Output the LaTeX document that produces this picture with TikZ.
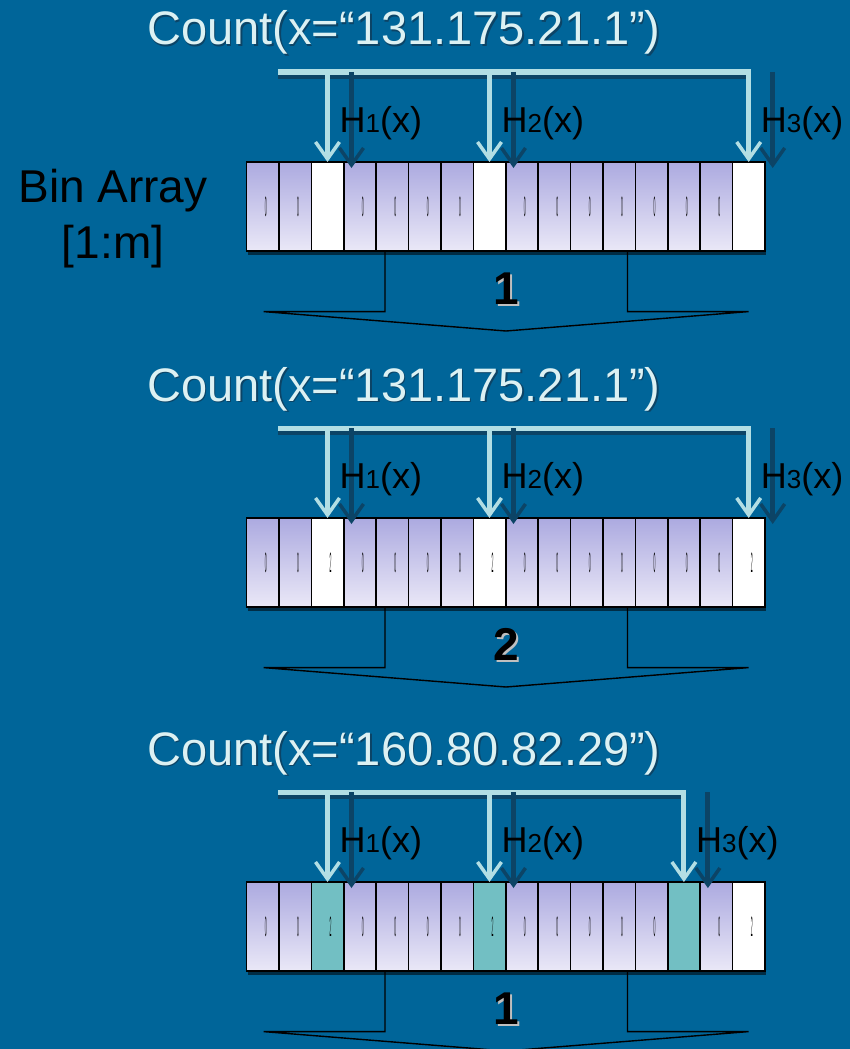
\documentclass[tikz,border=0pt]{standalone}
\usepackage{fontspec}
\setmainfont{Liberation Sans}
\usepackage{graphicx}
\usetikzlibrary{arrows.meta,positioning,shadows}

\definecolor{slide}{RGB}{0,101,153}
\definecolor{hashlt}{RGB}{178,222,228}
\definecolor{hashdk}{RGB}{12,68,102}
\definecolor{titlecol}{RGB}{220,241,243}
\definecolor{binhi}{RGB}{172,170,224}
\definecolor{binlo}{RGB}{234,232,247}
\definecolor{hitteal}{RGB}{114,191,195}

% squeezed counter value inside a narrow bin
\newcommand{\binmark}[1]{\hspace*{6pt}\scalebox{0.12}[1]{\fontsize{28}{28}\selectfont #1}}

% bin kinds, left to right
\def\rowA{binzero,binzero,binclear,binzero,binzero,binzero,binzero,binclear,binzero,binzero,binzero,binzero,binzero,binzero,binzero,binclear}
\def\rowB{binzero,binzero,bintwo,binzero,binzero,binzero,binzero,bintwo,binzero,binzero,binzero,binzero,binzero,binzero,binzero,bintwo}
\def\rowC{binzero,binzero,binhit,binzero,binzero,binzero,binzero,binhit,binzero,binzero,binzero,binzero,binzero,binhitnew,binzero,bintwo}

\begin{document}
\begin{tikzpicture}[x=1pt, y=-1pt,
    query/.style={font=\fontsize{47}{50}\selectfont, text=titlecol, anchor=base, inner sep=0pt},
    bin/.style={draw=black, line width=1.6pt, minimum width=32.4pt, minimum height=89pt,
                inner sep=0pt, outer sep=0pt,
                drop shadow={shadow xshift=1pt, shadow yshift=-4pt, opacity=.55, fill=black}},
    binzero/.style={bin, top color=binhi, bottom color=binlo, node contents=\binmark{0}},
    binclear/.style={bin, fill=white, node contents={}},
    bintwo/.style={bin, fill=white, node contents=\binmark{2}},
    binhit/.style={bin, fill=hitteal, node contents=\binmark{2}},
    binhitnew/.style={bin, fill=hitteal, node contents={}},
    hashup/.style={draw=hashlt, line width=5pt,
                   -{Straight Barb[length=17pt, width=24pt, line width=3.5pt]}},
    hashshade/.style={hashup, draw=hashdk, shorten <=-6pt},
    hashlabel/.style={font=\fontsize{36}{36}\selectfont, anchor=base west, inner sep=0pt},
    brace/.style={draw=black, line width=1.4pt, line join=miter},
    result/.style={font=\fontsize{46}{46}\selectfont\bfseries, anchor=base, inner sep=0pt}
  ]
  \fill[slide] (0,0) rectangle (850,1049);
  \useasboundingbox (0,0) rectangle (850,1049);

  \node[font=\fontsize{46}{56}\selectfont, align=center] (binlabel) at (113,219)
    {Bin Array\\{[1:m]}};

  \foreach \p/\dy/\ip/\hc/\res/\cells in {1/0/131.175.21.1/16/1/\rowA,
      2/356/131.175.21.1/16/2/\rowB, 3/720/160.80.82.29/14/1/\rowC}{
    \begin{scope}[shift={(0,\dy)}]
      % query
      \node[query, text=hashdk] (qs\p) at (405.5,46.5) {Count(x=“\ip”)};
      \node[query] (q\p) at (404,45) {Count(x=“\ip”)};
      % bins
      \edef\binrow{\cells}
      \foreach [count=\i] \k in \binrow
        \node (c\p-\i) at ({246.5+32.4*(\i-0.5)}, 206.5) [\k];
      % hash lines
      \coordinate (b\p) at (278,72);
      \coordinate (bs\p) at (278,76.5);
      \draw[hashdk, line width=4pt] (bs\p) -- (c\p-\hc.north |- bs\p);
      \draw[hashlt, line width=5pt] (b\p) -- ([xshift=2.5pt]c\p-\hc.north |- b\p);
      \foreach [count=\j] \h in {3,8,\hc}{
        \draw[hashshade, transform canvas={shift={(24,6)}}] (c\p-\h.north |- b\p) -- (c\p-\h.north);
        \draw[hashup] (c\p-\h.north |- b\p) -- (c\p-\h.north);
        \node[hashlabel] (h\p-\j) at ([xshift=12pt, yshift=30pt]c\p-\h.north)
          {H{\fontsize{26}{26}\selectfont\j}(x)};
      }
      % count arrow
      \draw[brace] (385,251) -- (385,311.6) -- (263.6,311.6) -- (506,331)
        -- (748.5,311.6) -- (627.5,311.6) -- (627.5,251);
      \node[result, text=black!25] (ns\p) at (508.5,306.5) {\res};
      \node[result] (n\p) at (506,304.5) {\res};
    \end{scope}
  }
\end{tikzpicture}
\end{document}
